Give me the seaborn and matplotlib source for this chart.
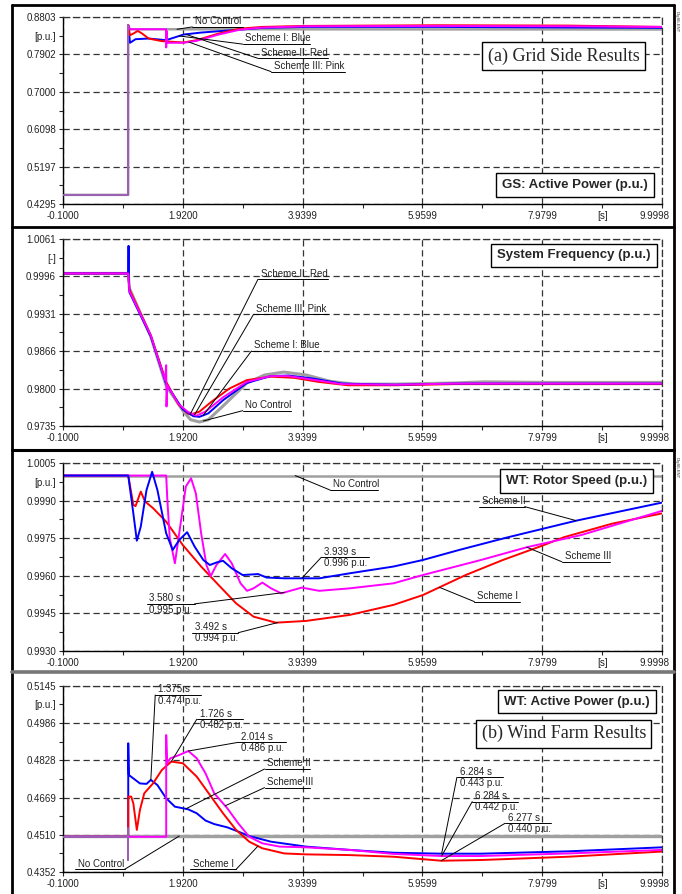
import numpy as np
import matplotlib.pyplot as plt
import matplotlib.transforms as mtransforms
import seaborn as sns
from matplotlib.lines import Line2D

sns.set_theme(style="white")
plt.rcParams['font.family'] = ['Liberation Sans', 'DejaVu Sans']

# x axis (time, s)
x_ticks = [-0.1, 1.92, 3.9399, 5.9599, 7.9799, 9.9998]
x_labels = ['-0.1000', '1.9200', '3.9399', '5.9599', '7.9799', '9.9998']

# ---- panel 1: grid side active power ----
p1_ticks = [0.4295, 0.5197, 0.6098, 0.7000, 0.7902, 0.8803]
p1_step_t = [-0.1, 1.0, 1.0]
p1_step_v = [0.4515, 0.4515, 0.8604]
p1_gray_t = [-0.1, 1.0, 1.0, 1.01, 10.0]
p1_gray_v = [0.4515, 0.4515, 0.8604, 0.8508, 0.8502]
p1_blue_t = [1.0, 1.03, 1.123, 1.344, 1.639, 1.934, 2.229, 2.524, 2.893, 3.261, 3.998, 6.21, 10.0]
p1_blue_v = [0.8604, 0.8181, 0.8268, 0.8284, 0.8245, 0.838, 0.8428, 0.846, 0.85, 0.854, 0.8564, 0.8564, 0.854]
p1_red_t = [1.0, 1.03, 1.086, 1.16, 1.234, 1.344, 1.566, 1.934, 2.155, 2.524, 2.893, 3.261, 3.998, 6.21, 8.42, 10.0]
p1_red_v = [0.8604, 0.8364, 0.8404, 0.8468, 0.8404, 0.8284, 0.8221, 0.8189, 0.8245, 0.8404, 0.8524, 0.8564,
            0.8588, 0.8604, 0.8596, 0.8564]
p1_pink_t = [1.0, 1.03, 1.64, 1.64, 1.645, 1.66, 1.934, 2.155, 2.524, 2.893, 3.261, 3.998, 6.21, 8.42, 10.0]
p1_pink_v = [0.8604, 0.8508, 0.8508, 0.8069, 0.8468, 0.8181, 0.8181, 0.8229, 0.838, 0.85, 0.8548, 0.858,
             0.8588, 0.858, 0.8564]

# ---- panel 2: system frequency ----
p2_ticks = [0.9735, 0.9800, 0.9866, 0.9931, 0.9996, 1.0061]
p2_gray_t = [-0.1, 1.0, 1.02, 1.38, 1.64, 1.92, 2.05, 2.2, 2.35, 2.6, 3.0, 3.3, 3.62, 4.0, 4.4, 4.8, 5.5, 6.5, 7.0,
             8.0, 10.0]
p2_gray_v = [1.0001, 1.0001, 0.9975, 0.9891, 0.9805, 0.9762, 0.9746, 0.9742, 0.9746, 0.9770, 0.9810, 0.9824,
             0.9829, 0.9824, 0.9813, 0.9808, 0.9808, 0.9810, 0.9812, 0.9811, 0.9811]
p2_red_t = [-0.1, 1.0, 1.02, 1.38, 1.64, 1.85, 2.0, 2.05, 2.2, 2.4, 2.7, 3.0, 3.4, 3.8, 4.2, 4.7, 5.5, 6.5, 8.0, 10.0]
p2_red_v = [1.0001, 1.0001, 0.9973, 0.9893, 0.9812, 0.9772, 0.9757, 0.9755, 0.9760, 0.9777, 0.9800, 0.9815,
            0.9821, 0.9819, 0.9812, 0.9806, 0.9806, 0.9808, 0.9808, 0.9808]
p2_blue_t = [-0.1, 1.0, 1.005, 1.01, 1.02, 1.38, 1.64, 1.92, 2.1, 2.2, 2.35, 2.6, 3.0, 3.4, 3.7, 4.1, 4.6, 5.5, 6.5,
             8.0, 10.0]
p2_blue_v = [1.0001, 1.0001, 1.0049, 0.9990, 0.9968, 0.9891, 0.9808, 0.9764, 0.9752, 0.9751, 0.9757, 0.9780,
             0.9810, 0.9822, 0.9823, 0.9818, 0.9809, 0.9807, 0.9809, 0.9809, 0.9809]
p2_pink_t = [-0.1, 1.0, 1.02, 1.38, 1.62, 1.64, 1.645, 1.66, 1.85, 2.0, 2.15, 2.3, 2.6, 3.0, 3.4, 3.7, 4.1, 4.6, 5.5,
             6.5, 8.0, 10.0]
p2_pink_v = [1.0001, 1.0001, 0.9970, 0.9893, 0.9815, 0.9841, 0.9769, 0.9806, 0.9773, 0.9760, 0.9753, 0.9760,
             0.9785, 0.9812, 0.9822, 0.9822, 0.9816, 0.9808, 0.9807, 0.9809, 0.9809, 0.9809]

# ---- panel 3: rotor speed ----
p3_ticks = [0.9930, 0.9945, 0.9960, 0.9975, 0.9990, 1.0005]
p3_gray_t = [-0.1, 10.0]
p3_gray_v = [1.0, 1.0]
p3_red_t = [-0.1, 1.0, 1.086, 1.123, 1.211, 1.285, 1.418, 1.639, 1.919, 2.229, 2.524, 2.819, 3.113, 3.492, 3.998,
            4.735, 5.473, 5.966, 6.247, 6.689, 7.316, 7.979, 8.347, 9.159, 10.0]
p3_red_v = [1.0, 1.0, 0.99883, 0.99878, 0.99936, 0.99896, 0.9987, 0.99816, 0.99723, 0.99637, 0.99563, 0.9949,
            0.99437, 0.99413, 0.9942, 0.99444, 0.99484, 0.99523, 0.99554, 0.99603, 0.99663, 0.9972, 0.99754,
            0.99808, 0.99849]
p3_blue_t = [-0.1, 1.0, 1.086, 1.145, 1.211, 1.308, 1.403, 1.492, 1.639, 1.75, 1.86, 1.993, 2.118, 2.266, 2.376,
             2.487, 2.598, 2.745, 2.929, 3.187, 3.335, 3.63, 3.939, 4.22, 4.735, 5.473, 5.966, 6.578, 7.39, 8.554, 10.0]
p3_blue_v = [1.0, 1.0, 0.99849, 0.9974, 0.99796, 0.99942, 1.00015, 0.99942, 0.9977, 0.99703, 0.99743, 0.99774,
             0.99717, 0.99663, 0.99643, 0.99653, 0.9966, 0.9963, 0.99603, 0.99607, 0.99593, 0.9959, 0.9959, 0.9959,
             0.9961, 0.99637, 0.99663, 0.99703, 0.99753, 0.9982, 0.99892]
p3_pink_t = [-0.1, 1.64, 1.66, 1.70, 1.787, 1.86, 1.971, 2.059, 2.14, 2.229, 2.318, 2.391, 2.487, 2.634, 2.745, 2.893,
             3.003, 3.113, 3.261, 3.408, 3.58, 3.925, 4.22, 4.735, 5.473, 5.966, 6.947, 7.721, 8.643, 10.0]
p3_pink_v = [1.0, 1.0, 0.9990, 0.9975, 0.9965, 0.9977, 0.99956, 0.99989, 0.99929, 0.9977, 0.99643, 0.99599, 0.99643,
             0.99687, 0.9965, 0.9957, 0.9954, 0.9955, 0.99573, 0.9955, 0.9953, 0.99553, 0.9954, 0.9955, 0.9957,
             0.99603, 0.99663, 0.99714, 0.99763, 0.99859]

# ---- panel 4: wind turbine active power ----
p4_ticks = [0.4352, 0.4510, 0.4669, 0.4828, 0.4986, 0.5145]
p4_step_t = [-0.1, 1.0, 1.0, 1.0]
p4_step_v = [0.4502, 0.4502, 0.4403, 0.4538]
p4_gray_t = [-0.1, 10.0]
p4_gray_v = [0.4505, 0.4505]
p4_blue_t = [-0.1, 1.0, 1.0, 1.01, 1.197, 1.308, 1.381, 1.492, 1.639, 1.787, 2.008, 2.155, 2.303, 2.45, 2.671, 2.855,
             3.04, 3.408, 3.998, 4.735, 5.473, 6.284, 6.947, 8.421, 10.0]
p4_blue_v = [0.4502, 0.4502, 0.4900, 0.4765, 0.4729, 0.4727, 0.4744, 0.4722, 0.4666, 0.4630, 0.4619, 0.4602, 0.4571,
             0.4556, 0.4542, 0.4524, 0.4505, 0.4481, 0.4460, 0.4446, 0.4434, 0.4430, 0.4430, 0.4440, 0.4457]
p4_red_t = [-0.1, 1.0, 1.0, 1.05, 1.086, 1.145, 1.197, 1.27, 1.344, 1.418, 1.566, 1.726, 1.92, 2.155, 2.376, 2.598,
            2.819, 3.04, 3.261, 3.63, 3.998, 4.735, 5.473, 6.277, 6.947, 8.421, 10.0]
p4_red_v = [0.4502, 0.4502, 0.4673, 0.4673, 0.4644, 0.4531, 0.4616, 0.4687, 0.4708, 0.4729, 0.4786, 0.4822, 0.4815,
            0.4758, 0.4680, 0.4602, 0.4531, 0.4481, 0.4453, 0.4431, 0.4427, 0.4424, 0.4417, 0.4400, 0.4403, 0.4417,
            0.4439]
p4_pink_t = [-0.1, 1.64, 1.64, 1.655, 1.71, 1.86, 2.014, 2.155, 2.303, 2.45, 2.671, 2.855, 3.04, 3.261, 3.556, 3.998,
             4.735, 5.473, 6.284, 6.947, 8.421, 10.0]
p4_pink_v = [0.4502, 0.4502, 0.4935, 0.4815, 0.4836, 0.4850, 0.4867, 0.4836, 0.4772, 0.4687, 0.4623, 0.4559, 0.4502,
             0.4474, 0.4460, 0.4457, 0.4446, 0.4429, 0.4420, 0.4420, 0.4431, 0.4446]

BLUE, RED, PINK, GRAY, PURPLE = '#0000ff', '#ff0000', '#ff00ff', '#a0a0a0', '#9a5fb4'
DASH = (0, (5, 3))


def draw(ax, t, v, color, lw=1.4, z=2):
    sns.lineplot(x=t, y=v, ax=ax, color=color, lw=lw, sort=False, estimator=None, zorder=z)


def setup(ax, yticks, unit):
    ax.set_xlim(x_ticks[0], x_ticks[-1])
    ax.set_ylim(yticks[0], yticks[-1])
    ax.set_xticks(x_ticks)
    ax.set_xticklabels(x_labels)
    ax.set_yticks(yticks)
    ax.set_yticklabels([f'{y:.4f}' for y in yticks])
    xm = [(a + b) / 2 for a, b in zip(x_ticks[:-1], x_ticks[1:])]
    ym = [(a + b) / 2 for a, b in zip(yticks[:-1], yticks[1:])]
    ax.set_xticks(xm, minor=True)
    ax.set_xticklabels(['', '', '', '', '[s]'], minor=True)
    ax.set_yticks(ym, minor=True)
    ax.set_yticklabels(['', '', '', '', unit], minor=True)
    ax.tick_params(which='both', labelsize=7, labelcolor='#222222', length=3, width=0.8,
                   direction='out', pad=2, bottom=True, left=True)
    # last time label sits a little left of the axis end
    last = ax.get_xticklabels()[-1]
    last.set_transform(last.get_transform() +
                       mtransforms.ScaledTranslation(-0.08, 0, ax.figure.dpi_scale_trans))
    ax.grid(which='major', linestyle=DASH, color='#333333', lw=0.9)
    for s in ['left', 'bottom']:
        ax.spines[s].set_color('black')
        ax.spines[s].set_linewidth(1.0)
    for s in ['top', 'right']:
        ax.spines[s].set_color('#333333')
        ax.spines[s].set_linestyle(DASH)
        ax.spines[s].set_linewidth(0.9)
    ax.set_xlabel('')
    ax.set_ylabel('')


def at(t, st, sv):
    return (t, float(np.interp(t, st, sv)))


def tag(ax, x0, x1, y, target, top, bottom=None, side='left'):
    kw = dict(color='black', lw=0.7, clip_on=False, zorder=5)
    ax.plot([x0, x1], [y, y], **kw)
    sx = x0 if side == 'left' else x1
    ax.plot([sx, target[0]], [y, target[1]], **kw)
    ax.annotate(top, (x0, y), xytext=(2, 0.5), textcoords='offset points',
                ha='left', va='bottom', fontsize=7, color='#222222', zorder=6)
    if bottom:
        ax.annotate(bottom, (x0, y), xytext=(2, -0.5), textcoords='offset points',
                    ha='left', va='top', fontsize=7, color='#222222', zorder=6)


def box(ax, x, y, text, serif=False):
    if serif:
        kw = dict(fontsize=13, family='Liberation Serif')
        pad = 0.3
    else:
        kw = dict(fontsize=9.5, fontweight='bold')
        pad = 0.45
    ax.text(x, y, text, transform=ax.transAxes, ha='center', va='center', zorder=7,
            bbox=dict(boxstyle=f'square,pad={pad}', fc='white', ec='black', lw=1.0), **kw)


fig = plt.figure(figsize=(6.82, 8.94), dpi=100)
L, W = 63 / 682, 599 / 682
ax1 = fig.add_axes([L, 1 - 204 / 894, W, 187 / 894])
ax2 = fig.add_axes([L, 1 - 426 / 894, W, 187 / 894])
ax3 = fig.add_axes([L, 1 - 651 / 894, W, 188 / 894])
ax4 = fig.add_axes([L, 1 - 872 / 894, W, 186.3 / 894])

# panel 1
draw(ax1, p1_gray_t, p1_gray_v, GRAY, lw=1.8)
draw(ax1, p1_blue_t, p1_blue_v, BLUE)
draw(ax1, p1_red_t, p1_red_v, RED)
draw(ax1, p1_pink_t, p1_pink_v, PINK)
draw(ax1, p1_step_t, p1_step_v, PURPLE, z=3)
setup(ax1, p1_ticks, '[p.u.]')
tag(ax1, 2.081, 2.929, 0.8564, at(1.823, p1_gray_t, p1_gray_v), 'No Control')
tag(ax1, 2.929, 4.072, 0.8149, at(1.86, p1_blue_t, p1_blue_v), 'Scheme I: Blue')
tag(ax1, 3.187, 4.367, 0.7806, at(1.97, p1_blue_t, p1_blue_v), 'Scheme II: Red')
tag(ax1, 3.408, 4.662, 0.7486, at(2.02, p1_pink_t, p1_pink_v), 'Scheme III: Pink')
box(ax1, 0.836, 0.79, '(a) Grid Side Results', serif=True)
box(ax1, 0.855, 0.10, 'GS: Active Power (p.u.)')

# panel 2
draw(ax2, p2_gray_t, p2_gray_v, GRAY, lw=2.2)
draw(ax2, p2_red_t, p2_red_v, RED)
draw(ax2, p2_blue_t, p2_blue_v, BLUE)
draw(ax2, p2_pink_t, p2_pink_v, PINK)
setup(ax2, p2_ticks, '[-]')
tag(ax2, 3.187, 4.367, 0.99907, at(2.045, p2_red_t, p2_red_v), 'Scheme II: Red')
tag(ax2, 3.113, 4.367, 0.99297, at(2.118, p2_pink_t, p2_pink_v), 'Scheme III: Pink')
tag(ax2, 3.077, 4.256, 0.98657, at(2.266, p2_blue_t, p2_blue_v), 'Scheme I: Blue')
tag(ax2, 2.929, 3.740, 0.97617, at(2.266, p2_gray_t, p2_gray_v), 'No Control')
box(ax2, 0.853, 0.912, 'System Frequency (p.u.)')

# panel 3
draw(ax3, p3_gray_t, p3_gray_v, GRAY, lw=1.8)
draw(ax3, p3_red_t, p3_red_v, RED)
draw(ax3, p3_pink_t, p3_pink_v, PINK)
draw(ax3, p3_blue_t, p3_blue_v, BLUE)
setup(ax3, p3_ticks, '[p.u.]')
tag(ax3, 4.404, 5.215, 0.99942, (3.814, 1.0), 'No Control')
tag(ax3, 6.910, 7.684, 0.99876, at(8.554, p3_blue_t, p3_blue_v), 'Scheme II', side='right')
tag(ax3, 8.311, 9.122, 0.99656, at(7.721, p3_pink_t, p3_pink_v), 'Scheme III')
tag(ax3, 6.836, 7.610, 0.99497, at(6.247, p3_red_t, p3_red_v), 'Scheme I')
tag(ax3, 4.256, 5.067, 0.99674, at(3.925, p3_blue_t, p3_blue_v), '3.939 s', '0.996 p.u.')
tag(ax3, 1.308, 2.118, 0.99488, at(3.63, p3_pink_t, p3_pink_v), '3.580 s', '0.995 p.u.', side='right')
tag(ax3, 2.081, 2.855, 0.99373, at(3.519, p3_red_t, p3_red_v), '3.492 s', '0.994 p.u.', side='right')
box(ax3, 0.857, 0.904, 'WT: Rotor Speed (p.u.)')

# panel 4
draw(ax4, p4_gray_t, p4_gray_v, GRAY, lw=2.4)
draw(ax4, p4_blue_t, p4_blue_v, BLUE)
draw(ax4, p4_red_t, p4_red_v, RED)
draw(ax4, p4_pink_t, p4_pink_v, PINK)
draw(ax4, p4_step_t, p4_step_v, PURPLE, z=3)
setup(ax4, p4_ticks, '[p.u.]')
tag(ax4, 1.455, 2.229, 0.51054, at(1.381, p4_blue_t, p4_blue_v), '1.375 s', '0.474 p.u.')
tag(ax4, 2.155, 2.929, 0.50018, at(1.726, p4_red_t, p4_red_v), '1.726 s', '0.482 p.u.')
tag(ax4, 2.855, 3.666, 0.49039, at(2.014, p4_pink_t, p4_pink_v), '2.014 s', '0.486 p.u.')
tag(ax4, 3.298, 4.072, 0.47904, at(1.971, p4_blue_t, p4_blue_v), 'Scheme II')
tag(ax4, 3.298, 4.072, 0.47110, at(2.634, p4_pink_t, p4_pink_v), 'Scheme III')
tag(ax4, 6.542, 7.316, 0.47550, at(6.284, p4_blue_t, p4_blue_v), '6.284 s', '0.443 p.u.')
tag(ax4, 6.800, 7.574, 0.46514, at(6.284, p4_pink_t, p4_pink_v), '6.284 s', '0.442 p.u.')
tag(ax4, 7.353, 8.127, 0.45592, at(6.277, p4_red_t, p4_red_v), '6.277 s', '0.440 p.u.')
tag(ax4, 0.106, 0.939, 0.43633, at(1.86, p4_gray_t, p4_gray_v), 'No Control', side='right')
tag(ax4, 2.045, 2.819, 0.43633, at(3.187, p4_red_t, p4_red_v), 'Scheme I', side='right')
box(ax4, 0.858, 0.915, 'WT: Active Power (p.u.)')
box(ax4, 0.836, 0.743, '(b) Wind Farm Results', serif=True)

# outer frames of the four panels
def fline(x, y, color='black', lw=2.0):
    fig.add_artist(Line2D(x, y, transform=fig.transFigure, color=color, lw=lw))

xl, xr = 12 / 682, 674 / 682
fline([xl, xl], [0, 1 - 5 / 894])
fline([xr, xr], [0, 1 - 5 / 894])
fline([xl, xr], [1 - 5 / 894, 1 - 5 / 894])
fline([xl, xr], [1 - 227 / 894, 1 - 227 / 894])
fline([xl, xr], [1 - 450 / 894, 1 - 450 / 894], lw=2.2)
fline([xl, xr], [1 - 672 / 894, 1 - 672 / 894], color='#777777', lw=2.6)
fig.text(677 / 682, 1 - 22 / 894, 'DIgSILENT', rotation=270, fontsize=3, ha='center', va='center')
fig.text(677 / 682, 1 - 468 / 894, 'DIgSILENT', rotation=270, fontsize=3, ha='center', va='center')

fig.savefig('out.png', dpi=100)
